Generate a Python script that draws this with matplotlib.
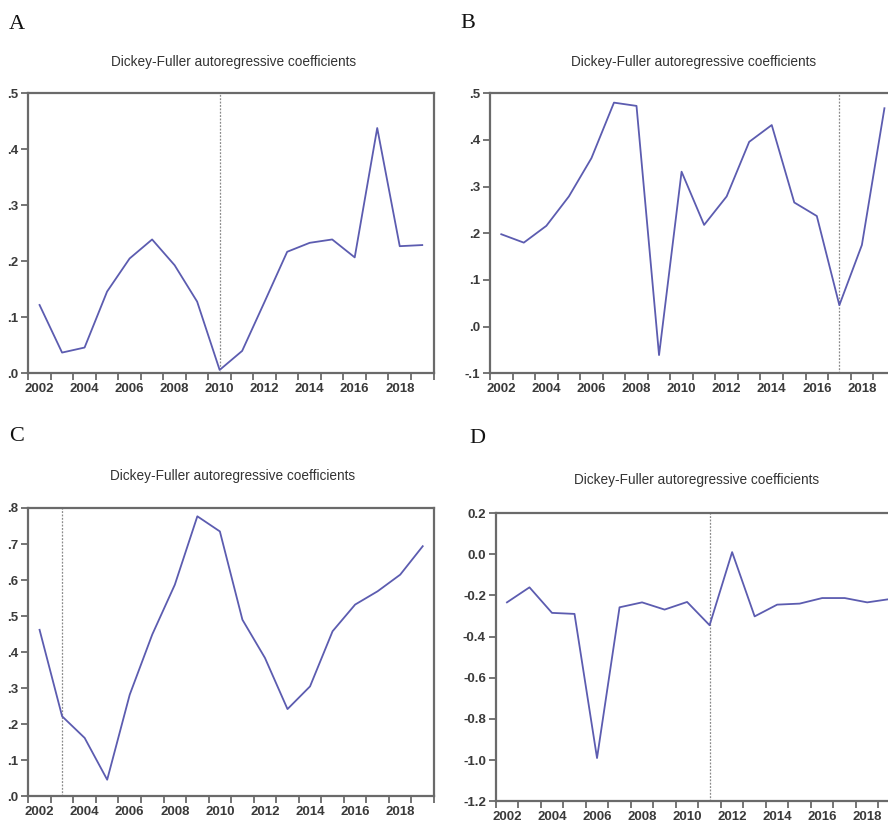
import matplotlib
matplotlib.use("Agg")
import matplotlib.pyplot as plt
from matplotlib.ticker import FixedLocator, FuncFormatter

years = list(range(2002, 2020))

series_a = [0.122, 0.037, 0.046, 0.146, 0.205, 0.239, 0.193, 0.128, 0.006,
            0.040, 0.128, 0.217, 0.233, 0.239, 0.207, 0.438, 0.227, 0.229]
series_b = [0.198, 0.180, 0.216, 0.279, 0.361, 0.480, 0.473, -0.061, 0.332,
            0.218, 0.279, 0.396, 0.432, 0.266, 0.237, 0.046, 0.175, 0.468]
series_c = [0.462, 0.222, 0.162, 0.046, 0.282, 0.449, 0.587, 0.777, 0.735,
            0.490, 0.384, 0.242, 0.305, 0.458, 0.532, 0.569, 0.615, 0.694]
series_d = [-0.234, -0.161, -0.285, -0.290, -0.990, -0.258, -0.234, -0.269, -0.232,
            -0.345, 0.010, -0.302, -0.245, -0.240, -0.213, -0.213, -0.234, -0.218]

break_years = {"A": 2010, "B": 2017, "C": 2003, "D": 2011}
yticks_a = [0.0, 0.1, 0.2, 0.3, 0.4, 0.5]
yticks_b = [-0.1, 0.0, 0.1, 0.2, 0.3, 0.4, 0.5]
yticks_c = [0.0, 0.1, 0.2, 0.3, 0.4, 0.5, 0.6, 0.7, 0.8]
yticks_d = [-1.2, -1.0, -0.8, -0.6, -0.4, -0.2, 0.0, 0.2]
xlabel_years = [2002, 2004, 2006, 2008, 2010, 2012, 2014, 2016, 2018]
title = "Dickey-Fuller autoregressive coefficients"

W, H = 888, 826
fig = plt.figure(figsize=(W / 100, H / 100), dpi=100)

NARROW = ["Liberation Sans Narrow", "Liberation Sans", "DejaVu Sans"]
LINE_COLOR = "#5c5cb0"
SPINE_COLOR = "#6a6a6a"
TEXT_COLOR = "#3a3a3a"


def fmt_eviews(v, pos):
    s = f"{v:.1f}"
    if s.startswith("0."):
        s = s[1:]
    elif s.startswith("-0."):
        s = "-" + s[2:]
    return s


def fmt_plain(v, pos):
    return f"{v:.1f}"


def panel(box, data, yticks, brk, formatter, letter, letter_xy, title_xy):
    l, t, r, b = box
    ax = fig.add_axes([l / W, 1 - b / H, (r - l) / W, (b - t) / H])
    ax.plot(years, data, color=LINE_COLOR, lw=1.3, zorder=3)
    ax.axvline(brk, color="#8a8a8a", lw=0.9, ls=(0, (1.5, 1.2)), zorder=2)
    ax.set_xlim(2001.5, 2019.5)
    ax.set_ylim(yticks[0], yticks[-1])
    ax.yaxis.set_major_locator(FixedLocator(yticks))
    ax.yaxis.set_major_formatter(FuncFormatter(formatter))
    ax.xaxis.set_major_locator(FixedLocator([y + 0.5 for y in range(2001, 2020)]))
    ax.xaxis.set_major_formatter(FuncFormatter(lambda v, p: ""))
    for yr in xlabel_years:
        ax.text(yr, -0.035, str(yr), transform=ax.get_xaxis_transform(),
                ha="center", va="top", fontsize=9.5, family=NARROW,
                color=TEXT_COLOR, fontweight="bold")
    ax.tick_params(axis="both", direction="out", length=5, width=1.3,
                   color=SPINE_COLOR, labelcolor=TEXT_COLOR)
    ax.tick_params(axis="y", pad=2)
    for lab in ax.get_yticklabels():
        lab.set_family(NARROW)
        lab.set_fontsize(9.5)
        lab.set_fontweight("bold")
    for sp in ax.spines.values():
        sp.set_color(SPINE_COLOR)
        sp.set_linewidth(1.6)
    fig.text(letter_xy[0] / W, 1 - letter_xy[1] / H, letter, family="Liberation Serif",
             fontsize=16, ha="left", va="top", color="#111111")
    fig.text(title_xy[0] / W, 1 - title_xy[1] / H, title, family=NARROW,
             fontsize=9.8, ha="center", va="center", color="#333333")
    return ax


panel((28.3, 93.3, 433.5, 373.3), series_a, yticks_a, break_years["A"], fmt_eviews,
      "A", (9, 15), (234, 62))
panel((490.0, 93.3, 895.7, 373.3), series_b, yticks_b, break_years["B"], fmt_eviews,
      "B", (460, 14), (694, 62))
panel((28.3, 508.0, 434.0, 796.3), series_c, yticks_c, break_years["C"], fmt_eviews,
      "C", (9, 427), (233, 476))
panel((495.7, 513.0, 901.0, 801.3), series_d, yticks_d, break_years["D"], fmt_plain,
      "D", (469, 429), (697, 480))

fig.savefig("out.png", dpi=100, facecolor="white")
